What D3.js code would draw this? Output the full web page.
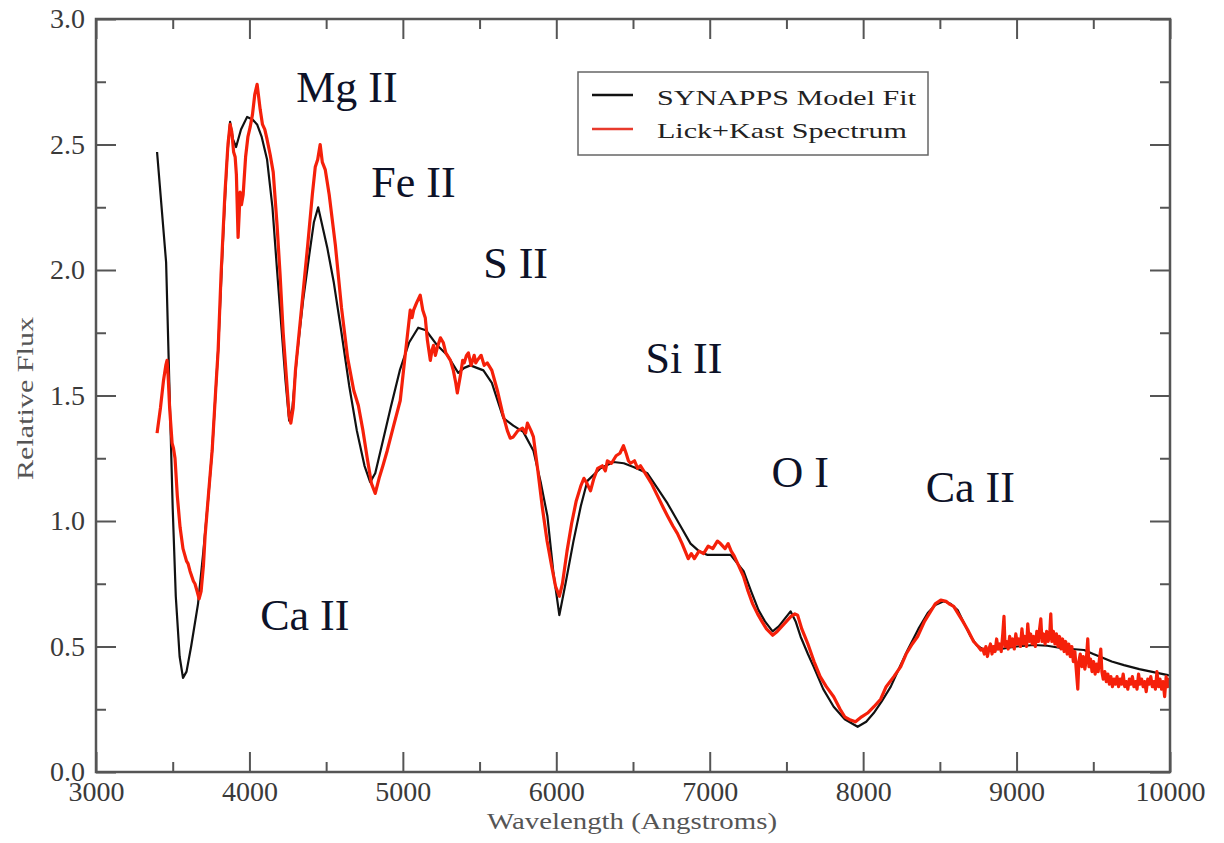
<!DOCTYPE html>
<head>
    <meta charset="utf-8">
    <title>SYNAPPS fit</title>
    <style>
        body { margin: 0; background: #fff; }
        text { font-family: "Liberation Serif", serif; }
        .tick text { font-size: 28px; fill: #3a3a3a; }
        .tick line { stroke: #555; stroke-width: 2; }
        .domain { display: none; }
        text.ion { font-size: 44px; fill: #0d1228; }
        text.axlab { font-size: 24px; fill: #555; }
        text.leg { font-size: 22px; fill: #222; }
    </style>
    <script src="https://cdn.jsdelivr.net/npm/d3@7"></script>
</head>
<body>
    <script>
        // axis ticks
        var xMajor = [3000, 4000, 5000, 6000, 7000, 8000, 9000, 10000];
        var xMinor = [3500, 4500, 5500, 6500, 7500, 8500, 9500];
        var yMajor = [0, 0.5, 1.0, 1.5, 2.0, 2.5, 3.0];
        var yMinor = [0.25, 0.75, 1.25, 1.75, 2.25, 2.75];

        // SYNAPPS model fit  [wavelength, flux]
        var model = [[3398,2.47],[3457,2.03],[3480,1.50],[3500,1.05],[3520,0.70],[3545,0.46],[3567,0.375],[3590,0.40],[3620,0.50],[3665,0.67],[3700,0.88],[3730,1.08],[3757,1.28],[3796,1.68],[3830,2.15],[3855,2.45],[3874,2.59],[3893,2.52],[3913,2.49],[3945,2.56],[3985,2.61],[4020,2.60],[4050,2.58],[4080,2.53],[4115,2.44],[4150,2.25],[4180,2.00],[4210,1.76],[4235,1.56],[4259,1.40],[4280,1.45],[4310,1.66],[4350,1.88],[4390,2.06],[4420,2.19],[4448,2.25],[4470,2.19],[4507,2.09],[4550,1.95],[4600,1.75],[4650,1.54],[4700,1.36],[4750,1.22],[4787,1.155],[4820,1.19],[4870,1.32],[4920,1.45],[4980,1.60],[5040,1.71],[5100,1.77],[5150,1.76],[5224,1.70],[5290,1.66],[5361,1.59],[5400,1.61],[5440,1.62],[5525,1.60],[5580,1.55],[5655,1.41],[5720,1.38],[5785,1.355],[5851,1.28],[5900,1.15],[5942,1.02],[5980,0.80],[6020,0.625],[6060,0.75],[6112,0.92],[6160,1.06],[6203,1.16],[6288,1.21],[6373,1.235],[6440,1.23],[6503,1.215],[6594,1.19],[6660,1.13],[6725,1.07],[6800,0.99],[6875,0.91],[6930,0.88],[6986,0.865],[7060,0.865],[7136,0.865],[7221,0.80],[7270,0.72],[7318,0.645],[7360,0.60],[7410,0.56],[7450,0.58],[7482,0.605],[7527,0.64],[7560,0.60],[7592,0.54],[7640,0.47],[7677,0.42],[7740,0.33],[7808,0.26],[7880,0.21],[7964,0.18],[8020,0.20],[8069,0.235],[8120,0.28],[8180,0.34],[8240,0.42],[8290,0.486],[8360,0.57],[8421,0.633],[8470,0.665],[8525,0.68],[8570,0.67],[8616,0.645],[8660,0.59],[8701,0.54],[8740,0.505],[8786,0.486],[8840,0.487],[8897,0.49],[9000,0.50],[9112,0.506],[9200,0.503],[9288,0.494],[9360,0.49],[9440,0.486],[9500,0.47],[9549,0.458],[9620,0.44],[9700,0.426],[9800,0.41],[9900,0.397],[9987,0.386],[10000,0.385]];

        // Lick+Kast spectrum  [wavelength, flux]
        var spectrum = [[3398,1.35],[3420,1.45],[3440,1.56],[3455,1.62],[3463,1.64],[3470,1.58],[3480,1.45],[3496,1.31],[3505,1.29],[3515,1.25],[3530,1.10],[3548,0.975],[3567,0.89],[3590,0.84],[3600,0.83],[3613,0.80],[3635,0.76],[3645,0.75],[3659,0.72],[3672,0.69],[3685,0.72],[3700,0.82],[3711,0.94],[3735,1.12],[3757,1.28],[3780,1.52],[3796,1.68],[3815,1.98],[3840,2.30],[3860,2.50],[3874,2.58],[3885,2.55],[3897,2.47],[3907,2.45],[3915,2.38],[3926,2.13],[3933,2.22],[3939,2.31],[3948,2.26],[3959,2.30],[3975,2.45],[3990,2.53],[4005,2.57],[4020,2.62],[4035,2.70],[4050,2.74],[4060,2.69],[4070,2.64],[4085,2.58],[4100,2.56],[4115,2.52],[4135,2.46],[4155,2.39],[4180,2.18],[4200,1.98],[4220,1.75],[4240,1.58],[4259,1.42],[4270,1.39],[4285,1.45],[4300,1.60],[4340,1.85],[4380,2.10],[4410,2.30],[4429,2.41],[4445,2.44],[4461,2.50],[4475,2.43],[4494,2.40],[4520,2.30],[4560,2.10],[4600,1.85],[4640,1.65],[4680,1.52],[4710,1.46],[4740,1.36],[4768,1.25],[4795,1.15],[4820,1.11],[4845,1.17],[4870,1.22],[4898,1.28],[4940,1.38],[4983,1.48],[5015,1.66],[5048,1.84],[5060,1.81],[5070,1.84],[5090,1.87],[5113,1.90],[5130,1.84],[5146,1.81],[5160,1.72],[5179,1.64],[5190,1.68],[5200,1.70],[5212,1.66],[5224,1.69],[5245,1.73],[5264,1.71],[5280,1.67],[5290,1.66],[5310,1.64],[5329,1.60],[5345,1.55],[5355,1.51],[5375,1.58],[5390,1.64],[5400,1.63],[5415,1.66],[5427,1.67],[5445,1.62],[5465,1.66],[5475,1.63],[5485,1.64],[5510,1.66],[5530,1.62],[5550,1.63],[5580,1.60],[5616,1.52],[5650,1.43],[5681,1.36],[5700,1.33],[5720,1.335],[5750,1.36],[5780,1.37],[5800,1.35],[5812,1.39],[5835,1.36],[5851,1.335],[5880,1.20],[5910,1.05],[5940,0.92],[5970,0.82],[5995,0.74],[6020,0.70],[6040,0.75],[6070,0.88],[6100,0.99],[6130,1.08],[6160,1.14],[6180,1.17],[6200,1.15],[6223,1.12],[6245,1.17],[6270,1.21],[6300,1.22],[6320,1.20],[6333,1.24],[6360,1.23],[6390,1.26],[6415,1.27],[6438,1.30],[6455,1.27],[6470,1.24],[6484,1.23],[6510,1.24],[6530,1.21],[6549,1.22],[6580,1.19],[6620,1.15],[6660,1.10],[6700,1.05],[6725,1.02],[6760,0.98],[6790,0.95],[6820,0.91],[6840,0.88],[6860,0.85],[6880,0.87],[6900,0.85],[6930,0.88],[6960,0.87],[6990,0.90],[7020,0.89],[7050,0.92],[7070,0.91],[7100,0.89],[7120,0.91],[7140,0.88],[7160,0.86],[7190,0.82],[7220,0.78],[7250,0.72],[7280,0.67],[7312,0.63],[7340,0.60],[7370,0.57],[7410,0.545],[7440,0.56],[7470,0.58],[7500,0.60],[7530,0.62],[7555,0.63],[7573,0.625],[7600,0.57],[7620,0.54],[7640,0.51],[7680,0.44],[7720,0.38],[7760,0.34],[7808,0.30],[7850,0.25],[7880,0.22],[7918,0.207],[7950,0.20],[7990,0.22],[8029,0.235],[8070,0.26],[8114,0.29],[8150,0.34],[8200,0.38],[8245,0.42],[8280,0.47],[8320,0.51],[8355,0.54],[8400,0.60],[8440,0.64],[8470,0.67],[8506,0.685],[8540,0.68],[8560,0.67],[8590,0.66],[8620,0.63],[8650,0.60],[8682,0.566],[8720,0.52],[8750,0.50],[8767,0.486],
            [8780,0.49],[8790,0.47],[8800,0.50],[8810,0.46],[8820,0.49],[8830,0.51],[8840,0.47],[8850,0.50],[8860,0.48],[8870,0.53],[8880,0.49],[8890,0.51],[8900,0.48],[8910,0.55],[8918,0.62],[8925,0.50],[8935,0.52],[8945,0.49],[8955,0.54],[8965,0.50],[8975,0.53],[8985,0.49],[8995,0.55],[9005,0.51],[9015,0.53],[9025,0.50],[9035,0.57],[9045,0.51],[9055,0.54],[9065,0.50],[9073,0.59],[9082,0.52],[9092,0.55],[9102,0.51],[9112,0.54],[9122,0.50],[9132,0.56],[9142,0.52],[9150,0.57],[9158,0.61],[9166,0.52],[9176,0.55],[9186,0.51],[9196,0.56],[9206,0.52],[9216,0.55],[9223,0.63],[9230,0.52],[9240,0.56],[9250,0.51],[9260,0.55],[9270,0.50],[9280,0.54],[9290,0.49],[9300,0.53],[9310,0.48],[9320,0.52],[9330,0.47],[9340,0.51],[9350,0.46],[9360,0.50],[9370,0.44],[9380,0.48],[9390,0.40],[9399,0.33],[9406,0.44],[9415,0.47],[9425,0.42],[9435,0.46],[9445,0.41],[9455,0.45],[9464,0.53],[9472,0.42],[9482,0.45],[9492,0.40],[9502,0.44],[9512,0.39],[9522,0.43],[9532,0.40],[9540,0.45],[9549,0.49],[9556,0.40],[9565,0.37],[9575,0.40],[9585,0.36],[9595,0.39],[9605,0.35],[9615,0.38],[9625,0.34],[9635,0.37],[9645,0.35],[9655,0.38],[9665,0.34],[9675,0.37],[9685,0.35],[9695,0.39],[9705,0.34],[9715,0.36],[9725,0.33],[9735,0.37],[9745,0.35],[9755,0.38],[9765,0.34],[9775,0.36],[9785,0.33],[9795,0.39],[9805,0.35],[9815,0.37],[9825,0.34],[9835,0.36],[9845,0.32],[9855,0.37],[9865,0.35],[9875,0.38],[9885,0.34],[9895,0.36],[9905,0.33],[9915,0.40],[9925,0.34],[9935,0.37],[9945,0.33],[9955,0.36],[9965,0.30],[9975,0.38],[9985,0.34],[9995,0.37],[10005,0.33]];

        // line identifications  [label, wavelength, flux]
        var ions = [["Mg II", 4305, 2.67], ["Fe II", 4794, 2.29], ["S II", 5524, 1.97], ["Si II", 6581, 1.59], ["O I", 7403, 1.135], ["Ca II", 8408, 1.075], ["Ca II", 4070, 0.566]];

        var legendNames = ["SYNAPPS Model Fit", "Lick+Kast Spectrum"];
        var legendColors = ["#111", "#e83a2c"];

        var margin = { top: 19, right: 54, bottom: 71, left: 96 },
            width = 1224 - margin.left - margin.right,
            height = 843 - margin.top - margin.bottom;

        var x = d3.scaleLinear().domain([3000, 10000]).range([0, width]);
        var y = d3.scaleLinear().domain([0, 3]).range([height, 0]);

        var svg = d3.select("body").append("svg")
            .attr("width", 1224)
            .attr("height", 843);

        var plot = svg.append("g")
            .attr("transform", "translate(" + margin.left + "," + margin.top + ")");

        plot.append("clipPath").attr("id", "clip")
            .append("rect").attr("width", width).attr("height", height);

        // axes, ticks point inward
        plot.append("g").attr("transform", "translate(0," + height + ")")
            .call(d3.axisBottom(x).tickValues(xMajor).tickSize(-20).tickSizeOuter(0).tickPadding(9).tickFormat(d3.format("d")));
        plot.append("g").attr("transform", "translate(0," + height + ")")
            .call(d3.axisBottom(x).tickValues(xMinor).tickSize(-10).tickSizeOuter(0).tickFormat(""));
        plot.append("g")
            .call(d3.axisTop(x).tickValues(xMajor).tickSize(-20).tickSizeOuter(0).tickFormat(""));
        plot.append("g")
            .call(d3.axisTop(x).tickValues(xMinor).tickSize(-10).tickSizeOuter(0).tickFormat(""));

        plot.append("g")
            .call(d3.axisLeft(y).tickValues(yMajor).tickSize(-20).tickSizeOuter(0).tickPadding(11).tickFormat(d3.format(".1f")));
        plot.append("g")
            .call(d3.axisLeft(y).tickValues(yMinor).tickSize(-10).tickSizeOuter(0).tickFormat(""));
        plot.append("g").attr("transform", "translate(" + width + ",0)")
            .call(d3.axisRight(y).tickValues(yMajor).tickSize(-20).tickSizeOuter(0).tickFormat(""));
        plot.append("g").attr("transform", "translate(" + width + ",0)")
            .call(d3.axisRight(y).tickValues(yMinor).tickSize(-10).tickSizeOuter(0).tickFormat(""));

        var line = d3.line()
            .x(d => x(d[0]))
            .y(d => y(d[1]));

        var curves = plot.append("g").attr("clip-path", "url(#clip)");

        curves.append("path")
            .datum(model)
            .attr("fill", "none")
            .attr("stroke", "#111")
            .attr("stroke-width", 2.2)
            .attr("stroke-linejoin", "round")
            .attr("d", line);

        curves.append("path")
            .datum(spectrum)
            .attr("fill", "none")
            .attr("stroke", "#f5200a")
            .attr("stroke-width", 3.2)
            .attr("stroke-linejoin", "round")
            .attr("d", line);

        // frame
        plot.append("rect")
            .attr("width", width)
            .attr("height", height)
            .attr("fill", "none")
            .attr("stroke", "#555")
            .attr("stroke-width", 2.5);

        // ion labels
        plot.selectAll("text.ion")
            .data(ions)
            .enter()
            .append("text")
            .attr("class", "ion")
            .attr("x", d => x(d[1]))
            .attr("y", d => y(d[2]))
            .text(d => d[0]);

        // legend
        var legend = svg.append("g").attr("transform", "translate(578,72)");
        legend.append("rect")
            .attr("width", 350)
            .attr("height", 83)
            .attr("fill", "#fff")
            .attr("stroke", "#666")
            .attr("stroke-width", 1.5);
        var legendWidths = [259, 250];
        legendNames.forEach(function (name, i) {
            legend.append("line")
                .attr("x1", 14).attr("x2", 55)
                .attr("y1", 23 + i * 34).attr("y2", 23 + i * 34)
                .attr("stroke", legendColors[i])
                .attr("stroke-width", 2.5);
            legend.append("text")
                .attr("class", "leg")
                .attr("x", 79)
                .attr("y", 33 + i * 33)
                .attr("textLength", legendWidths[i])
                .attr("lengthAdjust", "spacingAndGlyphs")
                .text(name);
        });

        // axis titles
        svg.append("text")
            .attr("class", "axlab")
            .attr("x", 487)
            .attr("y", 829)
            .attr("textLength", 290)
            .attr("lengthAdjust", "spacingAndGlyphs")
            .text("Wavelength (Angstroms)");

        svg.append("text")
            .attr("class", "axlab")
            .attr("transform", "translate(33,480) rotate(-90)")
            .attr("textLength", 163)
            .attr("lengthAdjust", "spacingAndGlyphs")
            .text("Relative Flux");
    </script>
</body>
